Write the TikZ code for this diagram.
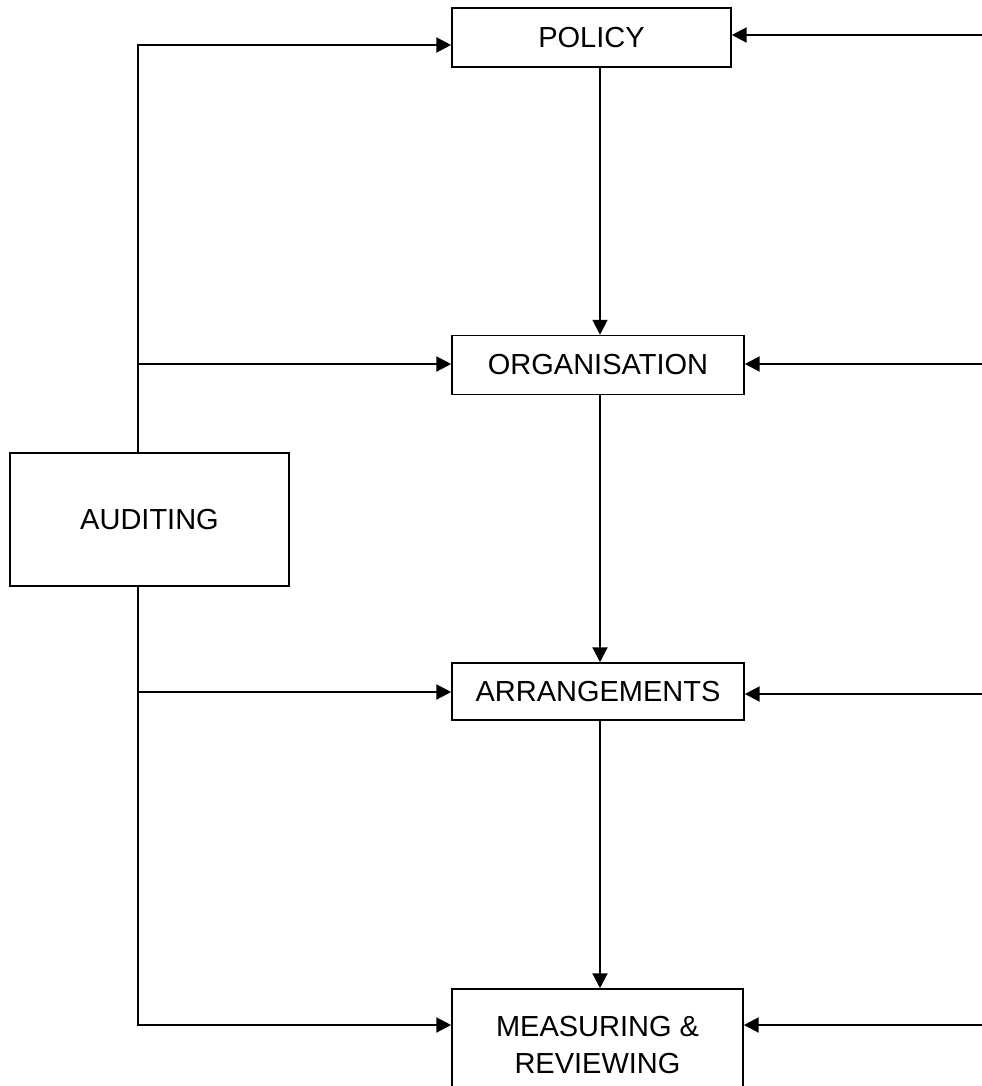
\documentclass[tikz,border=0pt]{standalone}
\usepackage{fontspec}
\setmainfont{Liberation Sans}
\usetikzlibrary{calc,arrows.meta}

\tikzset{
  box/.style={draw, line width=0.9pt, inner sep=0pt, align=center, font=\fontsize{16.5}{21.5}\selectfont},
  link/.style={line width=1.3pt, -{Triangle[length=8.5pt, width=8.5pt]}}
}

\begin{document}
\begin{tikzpicture}[x=0.02cm, y=-0.02cm]
\useasboundingbox (0,0) rectangle (982,1086);
\clip (0,0) rectangle (982,1086);
\node [box, minimum width=279*0.02cm, minimum height=59*0.02cm] (policy) at (591.5,37.5) {POLICY};
\node [box, minimum width=292*0.02cm, minimum height=59*0.02cm] (organisation) at (598,365) {ORGANISATION};
\node [box, minimum width=292*0.02cm, minimum height=57*0.02cm] (arrangements) at (598,691.5) {ARRANGEMENTS};
\node [box, minimum width=291*0.02cm, minimum height=112*0.02cm] (measuring) at (597.5,1045) {MEASURING \&\\REVIEWING};
\node [box, minimum width=279*0.02cm, minimum height=133*0.02cm] (auditing) at (149.5,519.5) {AUDITING};
% left side, from auditing
\coordinate (t1) at (138,45);
\coordinate (t2) at (138,364);
\coordinate (t3) at (138,692);
\coordinate (t4) at (138,1025);
\draw [link] (t1 |- auditing.north) -- (t1) -- (t1 -| policy.west);
\draw [link] (t2) -- (t2 -| organisation.west);
\draw [link] (t3) -- (t3 -| arrangements.west);
\draw [link] (t4 |- auditing.south) -- (t4) -- (t4 -| measuring.west);
% right side
\coordinate (r1) at (982,35);
\coordinate (r2) at (982,364);
\coordinate (r3) at (982,694);
\coordinate (r4) at (982,1025);
\draw [link] (r1) -- (r1 -| policy.east);
\draw [link] (r2) -- (r2 -| organisation.east);
\draw [link] (r3) -- (r3 -| arrangements.east);
\draw [link] (r4) -- (r4 -| measuring.east);
% down the middle
\coordinate (v) at (600,0);
\draw [link] (v |- policy.south) -- (v |- organisation.north);
\draw [link] (v |- organisation.south) -- (v |- arrangements.north);
\draw [link] (v |- arrangements.south) -- (v |- measuring.north);
\end{tikzpicture}
\end{document}
